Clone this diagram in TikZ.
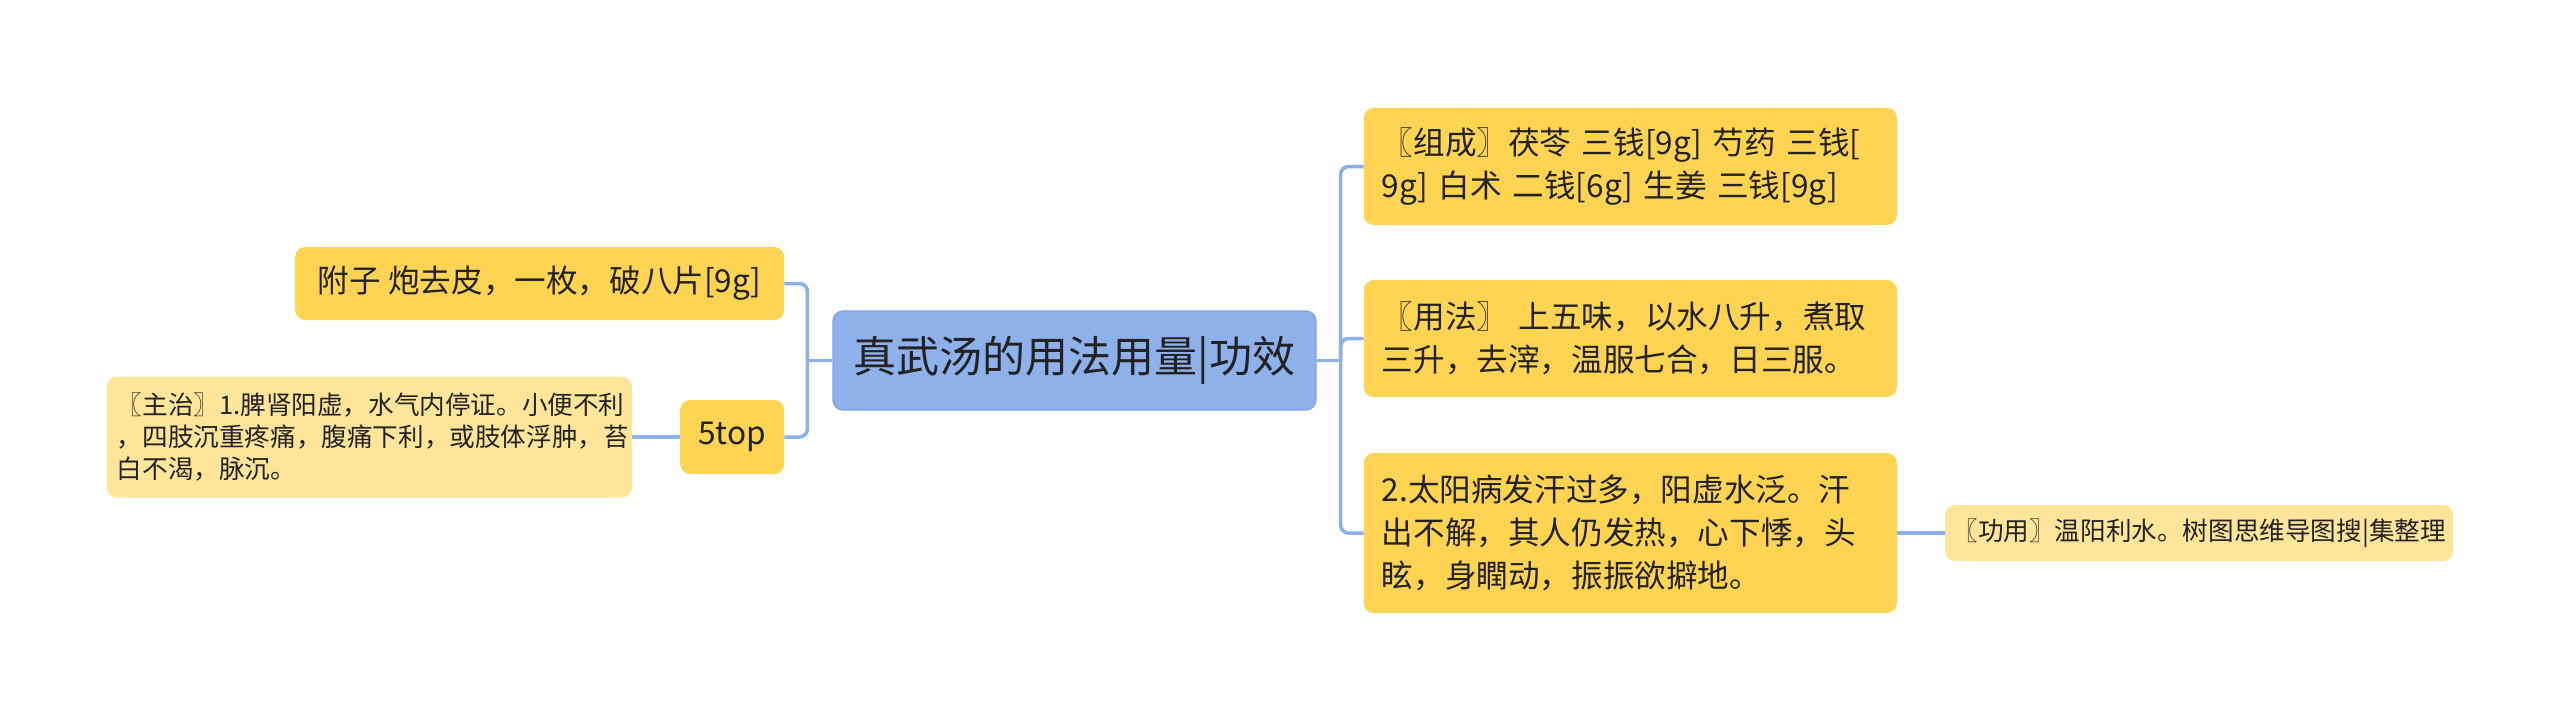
\documentclass[tikz,border=0pt]{standalone}
\usepackage{fontspec}
\usepackage{xcolor}
\usepackage{tikz}
\usetikzlibrary{positioning}
\newfontfamily\cjk{Noto Sans CJK SC}
\definecolor{rootcolor}{HTML}{8FB1EB}
\definecolor{rootline}{HTML}{7FA3E2}
\definecolor{itemcolor}{HTML}{FFD452}
\definecolor{notecolor}{HTML}{FFE599}
\definecolor{linkcolor}{HTML}{8EB0E8}
\definecolor{inkcolor}{HTML}{222222}

\begin{document}
\begin{tikzpicture}[
    node distance=48pt,
    every node/.style={rectangle, rounded corners=10pt, text=inkcolor, inner sep=0pt},
    rootbox/.style={fill=rootcolor, draw=rootline, line width=1.2pt,
                    minimum width=483pt, minimum height=99pt,
                    font=\cjk\fontsize{43}{50}\selectfont},
    mainbox/.style={fill=itemcolor, font=\cjk\fontsize{31.6}{43}\selectfont},
    itembox/.style={mainbox, align=left, text width=497pt, inner xsep=18pt},
    notebox/.style={fill=notecolor, align=left, font=\cjk\fontsize{25.6}{32}\selectfont},
    link/.style={draw=linkcolor, line width=3.5pt, rounded corners=8pt}
]
\useasboundingbox (0,0) rectangle (2560pt,-721pt);

\node[rootbox] (root) at (1074.5pt,-360.5pt) {真武汤的用法用量|功效};

\node[mainbox, minimum width=489pt, minimum height=73pt] (fuzi) [left=of root, yshift=77pt] {附子 炮去皮，一枚，破八片[9g]};
\node[mainbox, minimum width=104pt, minimum height=74pt] (wutop) [left=of root, yshift=-76.5pt] {5top};
\node[notebox, text width=505pt, inner xsep=10pt, minimum height=121pt] (zhuzhi) [left=of wutop] {〖主治〗1.脾肾阳虚，水气内停证。小便不利\\，四肢沉重疼痛，腹痛下利，或肢体浮肿，苔\\白不渴，脉沉。};

\node[itembox, minimum height=117pt] (zucheng) [right=47pt of root, yshift=194pt] {〖组成〗茯苓 三钱[9g] 芍药 三钱[\\9g] 白术 二钱[6g] 生姜 三钱[9g]};
\node[itembox, minimum height=117pt] (yongfa) [right=47pt of root, yshift=22pt] {〖用法〗 上五味，以水八升，煮取\\三升，去滓，温服七合，日三服。};
\node[itembox, minimum height=160pt] (taiyang) [right=47pt of root, yshift=-172.5pt] {2.太阳病发汗过多，阳虚水泛。汗\\出不解，其人仍发热，心下悸，头\\眩，身瞤动，振振欲擗地。};
\node[notebox, minimum width=508pt, minimum height=56pt] (gongyong) [right=of taiyang] {〖功用〗温阳利水。树图思维导图搜|集整理};

\coordinate (lbus) at ([xshift=-25pt]root.west);
\coordinate (rbus) at ([xshift=24pt]root.east);

\draw[link] (root.west) -- (lbus);
\draw[link] (lbus) |- (fuzi.east);
\draw[link] (lbus) |- (wutop.east);
\draw[link] (wutop.west) -- (zhuzhi.east);

\draw[link] (root.east) -- (rbus);
\foreach \n in {zucheng, yongfa, taiyang}
    \draw[link] (rbus) |- (\n.west);
\draw[link] (taiyang.east) -- (gongyong.west);
\end{tikzpicture}
\end{document}
